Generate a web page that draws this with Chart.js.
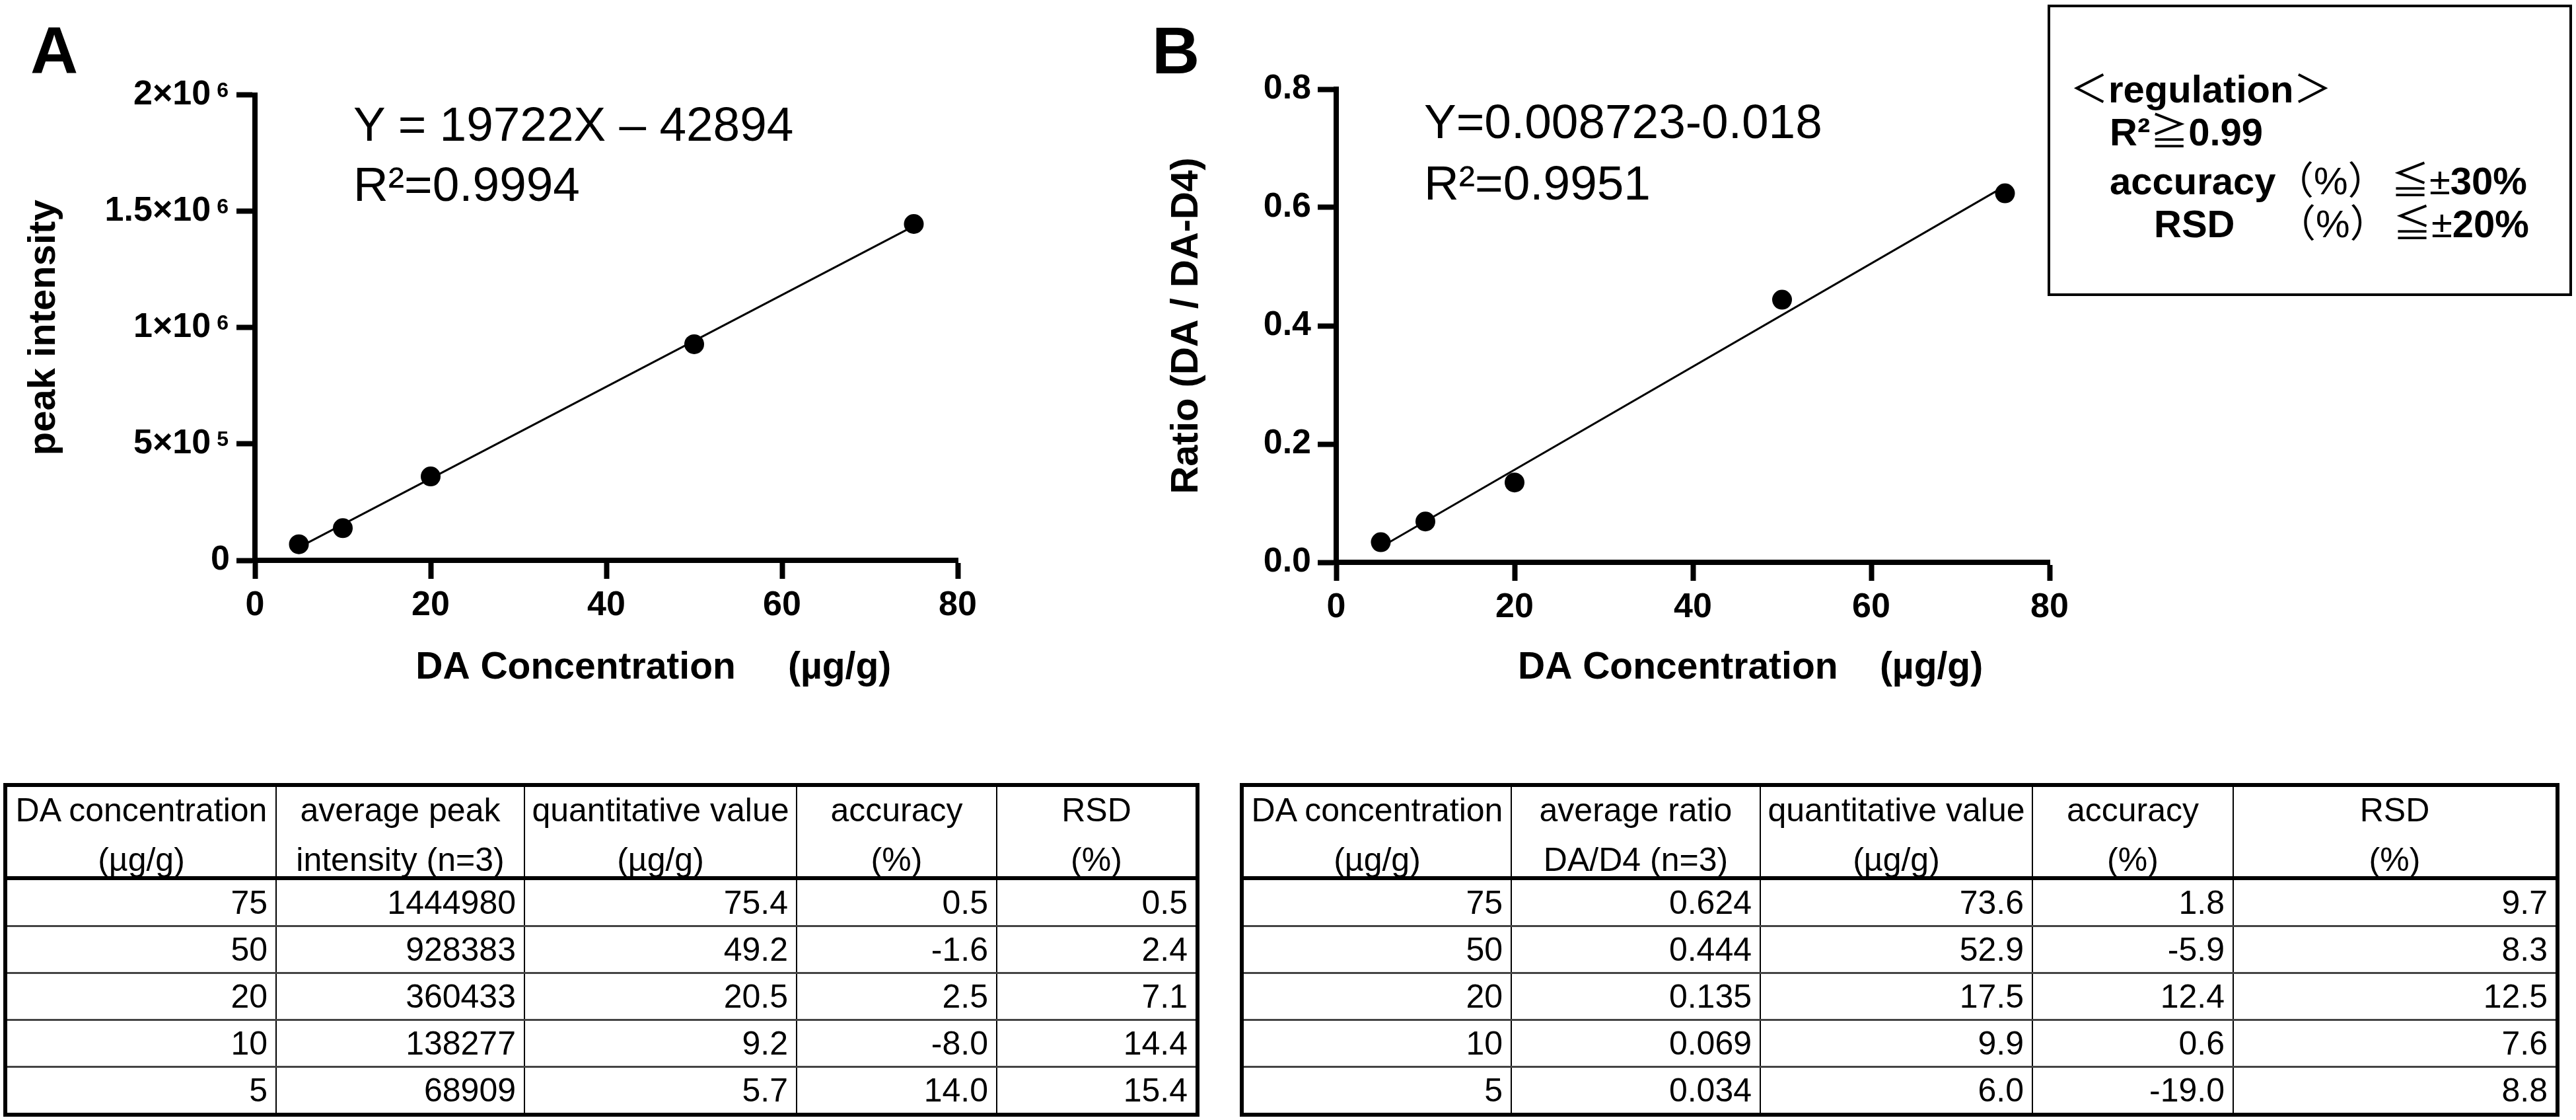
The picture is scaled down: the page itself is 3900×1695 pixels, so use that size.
<!DOCTYPE html>
<html lang="en">
  <head>
    <meta charset="utf-8">
    <title>DA calibration curves</title>
    <script src="https://cdn.jsdelivr.net/npm/chart.js@4.4.1/dist/chart.umd.min.js"></script>
    <style>
      body { margin: 0; width: 3900px; height: 1695px; background: #fff; position: relative; overflow: hidden;
             font-family: "Liberation Sans", Arial, "Noto Sans CJK JP", sans-serif; color: #000; }
      canvas, .txt { position: absolute; }
      .txt { white-space: pre; }
      .panel { font-size: 100px; font-weight: bold; line-height: 100px; }
      .eq { font-size: 73px; line-height: 73px; }
      #regbox { position: absolute; left: 3100px; top: 7px; width: 794px; height: 441px;
                border: 4px solid #000; box-sizing: border-box; background: #fff; }
      .reg { font-size: 58px; line-height: 58px; font-family: "Liberation Sans", "Noto Sans CJK JP", sans-serif; }
      .reg b { font-weight: bold; }
      table.tbl { position: absolute; top: 1185px; border-collapse: collapse; table-layout: fixed;
                  border: 6px solid #000; font-size: 50px; line-height: 50px; }
      table.tbl th { font-weight: normal; height: 135px; padding: 0; vertical-align: top; text-align: center;
                     border-left: 2px solid #000; border-bottom: 6px solid #000; white-space: nowrap; }
      table.tbl th div:first-child { margin-top: 10px; }
      table.tbl th div + div { margin-top: 25px; }
      table.tbl td { height: 68px; padding: 0 12px 0 0; text-align: right; vertical-align: middle;
                     border-left: 2px solid #000; border-top: 3px solid #444; }
    </style>
  </head>
  <body>
    <!-- panel letters and fit equations -->
    <div class="txt panel" style="left:46px;top:26px">A</div>
    <div class="txt panel" style="left:1744px;top:26px">B</div>
    <canvas id="chartA" width="1560" height="1060" style="left:0;top:0"></canvas>
    <canvas id="chartB" width="1450" height="1060" style="left:1700px;top:0"></canvas>
    <div class="txt eq" style="left:535px;top:151px">Y = 19722X – 42894</div>
    <div class="txt eq" style="left:535px;top:242px">R²=0.9994</div>
    <div class="txt eq" style="left:2156px;top:147px">Y=0.008723-0.018</div>
    <div class="txt eq" style="left:2156px;top:240px">R²=0.9951</div>

    <!-- regulation box -->
    <div id="regbox"></div>
    <div class="txt reg" style="left:3134px;top:106px">＜<b>regulation</b>＞</div>
    <div class="txt reg" style="left:3194px;top:171px"><b>R²</b>≧<b>0.99</b></div>
    <div class="txt reg" style="left:3194px;top:245px"><b>accuracy</b></div>
    <div class="txt reg" style="left:3445px;top:245px">（%）</div>
    <div class="txt reg" style="left:3620px;top:245px">≦±<b>30%</b></div>
    <div class="txt reg" style="left:3261px;top:310px"><b>RSD</b></div>
    <div class="txt reg" style="left:3448px;top:310px">（%）</div>
    <div class="txt reg" style="left:3623px;top:310px">≦±<b>20%</b></div>

    <script>
      // measured values (table rows, highest concentration first)
      const concentration = [75, 50, 20, 10, 5];
      const peakIntensity = [1444980, 928383, 360433, 138277, 68909];
      const quantA = [75.4, 49.2, 20.5, 9.2, 5.7];
      const accuracyA = [0.5, -1.6, 2.5, -8.0, 14.0];
      const rsdA = [0.5, 2.4, 7.1, 14.4, 15.4];
      const ratioB = [0.624, 0.444, 0.135, 0.069, 0.034];
      const quantB = [73.6, 52.9, 17.5, 9.9, 6.0];
      const accuracyB = [1.8, -5.9, 12.4, 0.6, -19.0];
      const rsdB = [9.7, 8.3, 12.5, 7.6, 8.8];

      // regression lines: [slope, intercept], drawn over the calibration range
      const fitA = [19722, -42894];
      const fitB = [0.008723, -0.018];
      const fitRange = [5, 75];

      const xTicks = [0, 20, 40, 60, 80];
      // y tick labels of A: mantissa part (room left for the exponent) and exponent
      const yTicksA = ['0', '5×10  ', '1×10  ', '1.5×10  ', '2×10  '];
      const yExpA = ['', '5', '6', '6', '6'];
      const yTicksB = ['0.0', '0.2', '0.4', '0.6', '0.8'];

      const headA = [['DA concentration', '(µg/g)'], ['average peak', 'intensity (n=3)'],
                     ['quantitative value', '(µg/g)'], ['accuracy', '(%)'], ['RSD', '(%)']];
      const headB = [['DA concentration', '(µg/g)'], ['average ratio', 'DA/D4 (n=3)'],
                     ['quantitative value', '(µg/g)'], ['accuracy', '(%)'], ['RSD', '(%)']];

      const FONT = 'Liberation Sans';
      const TICK_LEN = 28, TICK_PAD = 10;

      // small raised exponents after the "×10" tick labels
      const supLabels = {
        id: 'supLabels',
        afterDraw(chart, args, opts) {
          if (!opts.exps) return;
          const s = chart.scales.y, ctx = chart.ctx;
          ctx.save();
          ctx.font = 'bold 32px "' + FONT + '"';
          ctx.fillStyle = '#000';
          ctx.textAlign = 'right';
          ctx.textBaseline = 'alphabetic';
          s.ticks.forEach((t, i) => {
            if (!opts.exps[i]) return;
            ctx.fillText(opts.exps[i], s.right - TICK_LEN - TICK_PAD - 2, s.getPixelForValue(t.value) + 3);
          });
          ctx.restore();
        }
      };

      function makeChart(id, ys, fit, yStep, yLabels, yExps, yTitle, xTitle, box) {
        const pts = concentration.map((c, i) => ({x: c, y: ys[i]}));
        const line = fitRange.map(x => ({x: x, y: fit[0] * x + fit[1]}));
        const tickFont = {family: FONT, size: 52, weight: 'bold'};
        const grid = {drawOnChartArea: false, drawTicks: true, tickLength: TICK_LEN, tickWidth: 8, tickColor: '#000'};
        const border = {display: true, color: '#000', width: 8};
        return new Chart(document.getElementById(id), {
          type: 'scatter',
          data: {
            datasets: [
              {type: 'line', data: line, borderColor: '#000', borderWidth: 3, pointRadius: 0, fill: false},
              {data: pts, backgroundColor: '#000', borderWidth: 0, pointRadius: 15}
            ]
          },
          plugins: [supLabels],
          options: {
            responsive: false,
            animation: false,
            devicePixelRatio: 1,
            layout: {padding: box.pad},
            plugins: {legend: {display: false}, tooltip: {enabled: false}, supLabels: {exps: yExps}},
            scales: {
              x: {
                type: 'linear', min: 0, max: 80,
                afterBuildTicks: s => { s.ticks = xTicks.map(v => ({value: v})); },
                afterFit: s => { s.height = box.xh; },
                border: border, grid: grid,
                ticks: {color: '#000', padding: 9, font: tickFont, maxRotation: 0, autoSkip: false},
                title: {display: true, text: xTitle, color: '#000',
                        font: {family: FONT, size: 57, weight: 'bold'}, padding: {top: 0, bottom: 15}}
              },
              y: {
                type: 'linear', min: 0, max: yStep * (yLabels.length - 1),
                afterBuildTicks: s => { s.ticks = yLabels.map((l, i) => ({value: i * yStep})); },
                afterFit: s => { s.width = box.yw; },
                border: border, grid: grid,
                ticks: {color: '#000', padding: TICK_PAD, font: tickFont, autoSkip: false,
                        callback: (v, i) => yLabels[i]},
                title: {display: true, text: yTitle, color: '#000',
                        font: {family: FONT, size: 58, weight: 'bold'}, padding: {top: box.yt, bottom: 0}}
              }
            }
          }
        });
      }

      makeChart('chartA', peakIntensity, fitA, 500000, yTicksA, yExpA, 'peak intensity',
        '         DA Concentration     (µg/g)',
        {pad: {top: 143.5, right: 110, bottom: 0, left: 0}, xh: 212, yw: 386, yt: 32});
      makeChart('chartB', ratioB, fitB, 0.2, yTicksB, null, 'Ratio (DA / DA-D4)',
        '           DA Concentration    (µg/g)',
        {pad: {top: 135, right: 47, bottom: 0, left: 0}, xh: 209, yw: 323, yt: 62});

      function buildTable(left, widths, heads, cols) {
        const t = document.createElement('table');
        t.className = 'tbl';
        t.style.left = left + 'px';
        t.style.width = widths.reduce((a, b) => a + b, 0) + 'px';
        let html = '<colgroup>' + widths.map(w => '<col style="width:' + w + 'px">').join('') + '</colgroup>';
        html += '<tr>' + heads.map(h => '<th><div>' + h[0] + '</div><div>' + h[1] + '</div></th>').join('') + '</tr>';
        for (let r = 0; r < cols[0].length; r++) {
          html += '<tr>' + cols.map(c => '<td>' + c[r] + '</td>').join('') + '</tr>';
        }
        t.innerHTML = html;
        document.body.appendChild(t);
      }

      const f1 = v => v.toFixed(1);
      buildTable(5, [410, 376, 412, 303, 304], headA,
        [concentration, peakIntensity, quantA.map(f1), accuracyA.map(f1), rsdA.map(f1)]);
      buildTable(1877, [408, 377, 412, 304, 491], headB,
        [concentration, ratioB.map(v => v.toFixed(3)), quantB.map(f1), accuracyB.map(f1), rsdB.map(f1)]);
    </script>
  </body>
</html>
